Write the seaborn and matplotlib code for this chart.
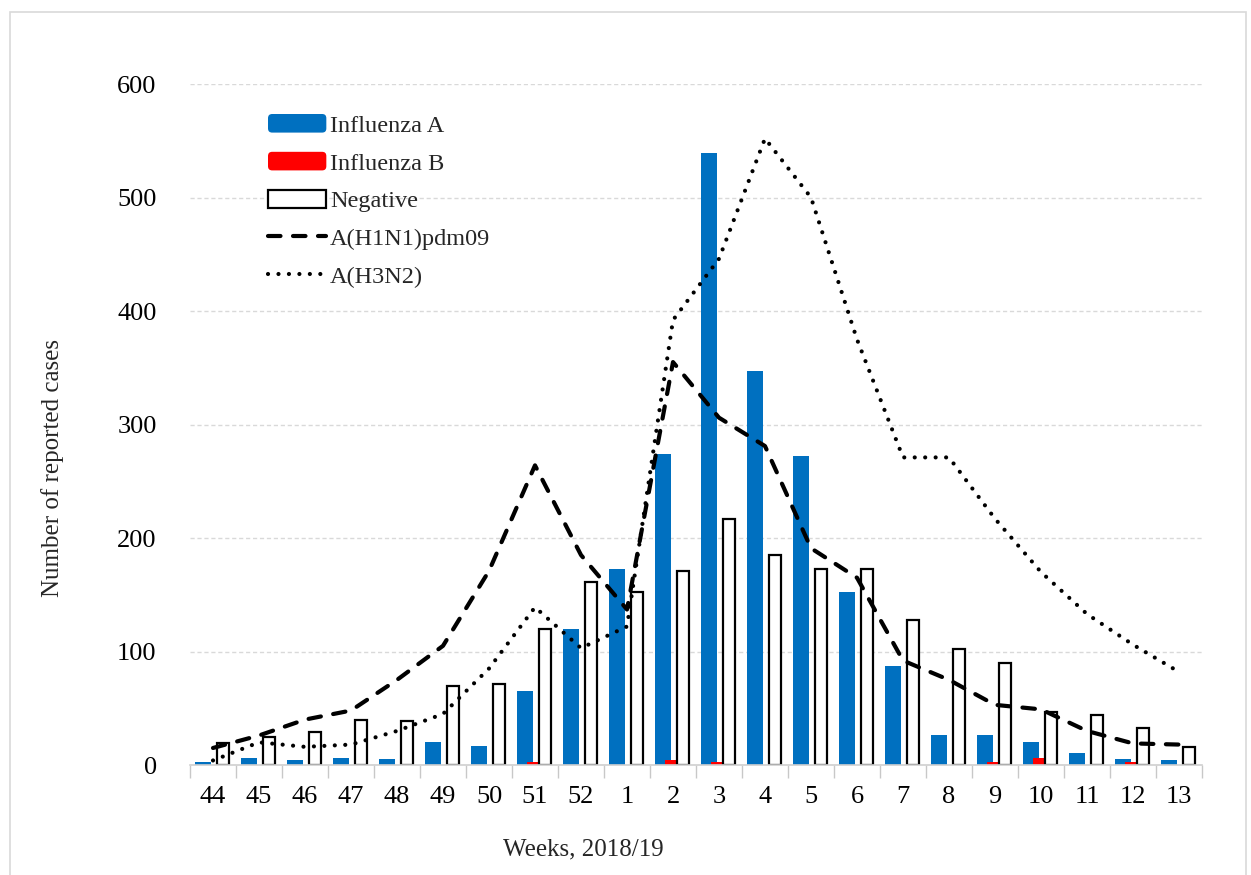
import matplotlib
matplotlib.use("Agg")
import numpy as np
import pandas as pd
import matplotlib.pyplot as plt
import seaborn as sns
from matplotlib.patches import Patch, Rectangle, FancyBboxPatch
from matplotlib.lines import Line2D
from matplotlib.legend_handler import HandlerPatch

weeks = ["44", "45", "46", "47", "48", "49", "50", "51", "52", "1", "2",
         "3", "4", "5", "6", "7", "8", "9", "10", "11", "12", "13"]
flu_a = [3, 6, 4, 6, 5, 20, 17, 65, 120, 173, 274, 539, 347, 272, 152, 87, 26, 26, 20, 11, 5, 4]
flu_b = [0, 0, 0, 0, 0, 0, 0, 3, 0, 0, 4, 3, 0, 0, 0, 0, 0, 3, 6, 0, 3, 0]
negative = [19, 25, 29, 40, 39, 70, 71, 120, 161, 152, 171, 217, 185, 173, 173, 128, 102, 90, 47, 44, 33, 16]
h1n1 = [15, 26, 40, 48, 75, 105, 171, 264, 185, 137, 355, 306, 281, 191, 165, 92, 75, 53, 49, 30, 19, 18]
h3n2 = [4, 20, 16, 18, 30, 45, 85, 139, 103, 122, 392, 446, 552, 500, 375, 271, 271, 217, 170, 133, 106, 82]

bar_series = ["Influenza A", "Influenza B", "Negative"]
bar_colors = {"Influenza A": "#0070C0", "Influenza B": "#FF0000", "Negative": "#FFFFFF"}

sns.set_theme(style="white")
plt.rcParams['font.family'] = ['Liberation Serif', 'DejaVu Serif']

W, H = 1251, 875
fig = plt.figure(figsize=(W / 100, H / 100), dpi=100)
ax = fig.add_axes([190 / W, 1 - 765 / H, (1202 - 190) / W, (765 - 84) / H])

bars_df = pd.DataFrame({
    "week": weeks * 3,
    "count": flu_a + flu_b + negative,
    "series": [s for s in bar_series for _ in weeks],
})
sns.barplot(data=bars_df, x="week", y="count", hue="series", order=weeks,
            hue_order=bar_series, palette=bar_colors, width=0.66, dodge=True,
            errorbar=None, saturation=1, legend=False, ax=ax)

widths = [0.35, 0.33, 0.26]
for cont, w in zip(ax.containers, widths):
    for p in cont.patches:
        cx = p.get_x() + p.get_width() / 2
        p.set_x(cx - w / 2)
        p.set_width(w)
        p.set_linewidth(0)
for p in ax.containers[2].patches:
    p.set_facecolor("white")
    p.set_edgecolor("black")
    p.set_linewidth(1.6)

sns.lineplot(x=weeks, y=h1n1, sort=False, color="black", linewidth=3, ax=ax)
l1 = ax.lines[-1]
l1.set_linestyle((0, (3, 3)))
l1.set_dash_capstyle("round")
sns.lineplot(x=weeks, y=h3n2, sort=False, color="black", linewidth=3, ax=ax)
l2 = ax.lines[-1]
l2.set_linestyle((0, (0.01, 2.5)))
l2.set_dash_capstyle("round")

n = len(weeks)
ax.set_xlim(-0.5, n - 0.5)
ax.set_ylim(0, 600)
ax.set_yticks(np.arange(0, 601, 100))
ax.set_xticks(range(n), weeks)
ax.set_xticks(np.arange(-0.5, n, 1), minor=True)
ax.tick_params(axis="x", which="major", length=0, pad=15, labelsize=19, colors="black")
ax.tick_params(axis="x", which="minor", length=9, width=1, color="#c8c8c8", bottom=True)
ax.tick_params(axis="y", length=0, pad=24, labelsize=19, colors="black")

for s in ["left", "top", "right"]:
    ax.spines[s].set_visible(False)
ax.spines["bottom"].set_color("#d0d0d0")
ax.spines["bottom"].set_linewidth(1.2)
ax.yaxis.grid(True, linestyle=(0, (3, 2)), color="#d9d9d9", linewidth=1)
ax.xaxis.grid(False)
ax.set_axisbelow(True)

ax.set_xlabel("Weeks, 2018/19", fontsize=18)
ax.xaxis.set_label_coords((583 - 190) / 1012, (765 - 838) / 681)
ax.set_ylabel("Number of reported cases", fontsize=18)
ax.yaxis.set_label_coords((64 - 190) / 1012, (765 - 468) / 681)


def rounded_patch(legend, orig_handle, xdescent, ydescent, width, height, fontsize):
    return FancyBboxPatch((-xdescent, -ydescent), width, height,
                          boxstyle="round,pad=0,rounding_size=3")


handles = [
    Patch(facecolor="#0070C0", edgecolor="none"),
    Patch(facecolor="#FF0000", edgecolor="none"),
    Patch(facecolor="white", edgecolor="black", linewidth=1.6),
    Line2D([], [], color="black", linewidth=3, linestyle=(0, (3, 3)), dash_capstyle="round"),
    Line2D([], [], color="black", linewidth=3, linestyle=(0, (0.01, 2.5)), dash_capstyle="round"),
]
labels = ["Influenza A", "Influenza B", "Negative", "A(H1N1)pdm09", "A(H3N2)"]
hm = {handles[0]: HandlerPatch(patch_func=rounded_patch),
      handles[1]: HandlerPatch(patch_func=rounded_patch)}
fig.legend(handles, labels, loc="upper left", bbox_to_anchor=(268 / W, 1 - 114 / H),
           frameon=False, fontsize=17.5, handlelength=2.4, handleheight=0.8,
           handletextpad=0.15, labelspacing=0.62, borderpad=0, borderaxespad=0,
           handler_map=hm)

fig.patches.append(Rectangle((10 / W, -0.1), (1246 - 10) / W, 1.1 - 12 / H,
                             transform=fig.transFigure, fill=False,
                             edgecolor="#d9d9d9", linewidth=1.2))

fig.savefig("out.png", dpi=100)
